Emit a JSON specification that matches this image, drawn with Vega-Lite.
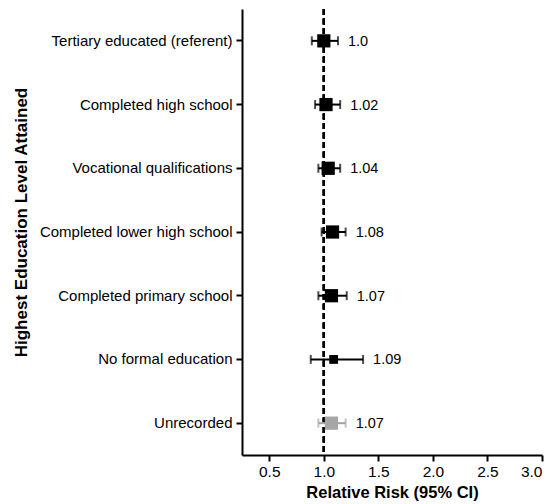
{
  "$schema": "https://vega.github.io/schema/vega-lite/v6.json",
  "width": 300,
  "height": 446,
  "autosize": "none",
  "padding": {"left": 242, "top": 9, "right": 13, "bottom": 49},
  "background": "white",
  "data": {
    "values": [
      {"label": "Tertiary educated (referent)", "rr": 1.00, "lo": 0.89, "hi": 1.13, "txt": "1.0"},
      {"label": "Completed high school", "rr": 1.02, "lo": 0.92, "hi": 1.15, "txt": "1.02"},
      {"label": "Vocational qualifications", "rr": 1.04, "lo": 0.95, "hi": 1.15, "txt": "1.04"},
      {"label": "Completed lower high school", "rr": 1.08, "lo": 0.98, "hi": 1.20, "txt": "1.08"},
      {"label": "Completed primary school", "rr": 1.07, "lo": 0.95, "hi": 1.21, "txt": "1.07"},
      {"label": "No formal education", "rr": 1.09, "lo": 0.88, "hi": 1.36, "txt": "1.09"},
      {"label": "Unrecorded", "rr": 1.07, "lo": 0.95, "hi": 1.20, "txt": "1.07"}
    ]
  },
  "encoding": {
    "y": {
      "field": "label",
      "type": "nominal",
      "sort": null,
      "scale": {"paddingInner": 0, "paddingOuter": 0},
      "axis": {
        "title": "Highest Education Level Attained",
        "titleFontSize": 17,
        "titleFontWeight": "bold",
        "titlePadding": 12,
        "titleY": 213,
        "labelFontSize": 15,
        "labelPadding": 4,
        "labelLimit": 260,
        "tickSize": 6
      }
    }
  },
  "layer": [
    {
      "mark": {"type": "rule", "strokeDash": [6, 3.5], "strokeWidth": 2, "color": "black"},
      "encoding": {"x": {"datum": 1, "type": "quantitative", "title": "Relative Risk (95% CI)"}, "y": null}
    },
    {
      "mark": {"type": "rule", "strokeWidth": 2},
      "encoding": {
        "x": {
          "field": "lo",
          "type": "quantitative",
          "title": "Relative Risk (95% CI)",
          "scale": {"domain": [0.25, 3.0], "nice": false, "zero": false},
          "axis": {
            "values": [0.5, 0.75, 1.0, 1.25, 1.5, 1.75, 2.0, 2.25, 2.5, 2.75, 3.0],
            "labelExpr": "datum.value % 0.5 > 0.01 ? '' : format(datum.value, '.1f')",
            "tickSize": {"condition": {"test": "datum.value % 0.5 > 0.01", "value": 4}, "value": 6},
            "labelFontSize": 15.5,
            "labelPadding": 3,
            "titleFontSize": 16.5,
            "titleFontWeight": "bold",
            "titlePadding": 5,
            "grid": false
          }
        },
        "x2": {"field": "hi"},
        "color": {"condition": {"test": "datum.label == 'Unrecorded'", "value": "#a6a6a6"}, "value": "black"}
      }
    },
    {
      "mark": {"type": "tick", "thickness": 2, "size": 9},
      "encoding": {
        "x": {"field": "lo", "type": "quantitative", "title": "Relative Risk (95% CI)"},
        "color": {"condition": {"test": "datum.label == 'Unrecorded'", "value": "#a6a6a6"}, "value": "black"}
      }
    },
    {
      "mark": {"type": "tick", "thickness": 2, "size": 9},
      "encoding": {
        "x": {"field": "hi", "type": "quantitative", "title": "Relative Risk (95% CI)"},
        "color": {"condition": {"test": "datum.label == 'Unrecorded'", "value": "#a6a6a6"}, "value": "black"}
      }
    },
    {
      "mark": {"type": "point", "shape": "square", "filled": true, "opacity": 1},
      "encoding": {
        "x": {"field": "rr", "type": "quantitative", "title": "Relative Risk (95% CI)"},
        "size": {"condition": {"test": "datum.label == 'No formal education'", "value": 78}, "value": 175},
        "color": {"condition": {"test": "datum.label == 'Unrecorded'", "value": "#a6a6a6"}, "value": "black"}
      }
    },
    {
      "mark": {"type": "text", "align": "left", "baseline": "middle", "dx": 10, "dy": 1, "fontSize": 14.5, "color": "black"},
      "encoding": {
        "x": {"field": "hi", "type": "quantitative", "title": "Relative Risk (95% CI)"},
        "text": {"field": "txt"}
      }
    }
  ],
  "config": {
    "font": "Liberation Sans",
    "view": {"stroke": null},
    "axis": {
      "domainColor": "black",
      "domainWidth": 2,
      "tickColor": "black",
      "tickWidth": 2,
      "labelColor": "black",
      "titleColor": "black",
      "labelFont": "Liberation Sans",
      "titleFont": "Liberation Sans"
    }
  }
}
